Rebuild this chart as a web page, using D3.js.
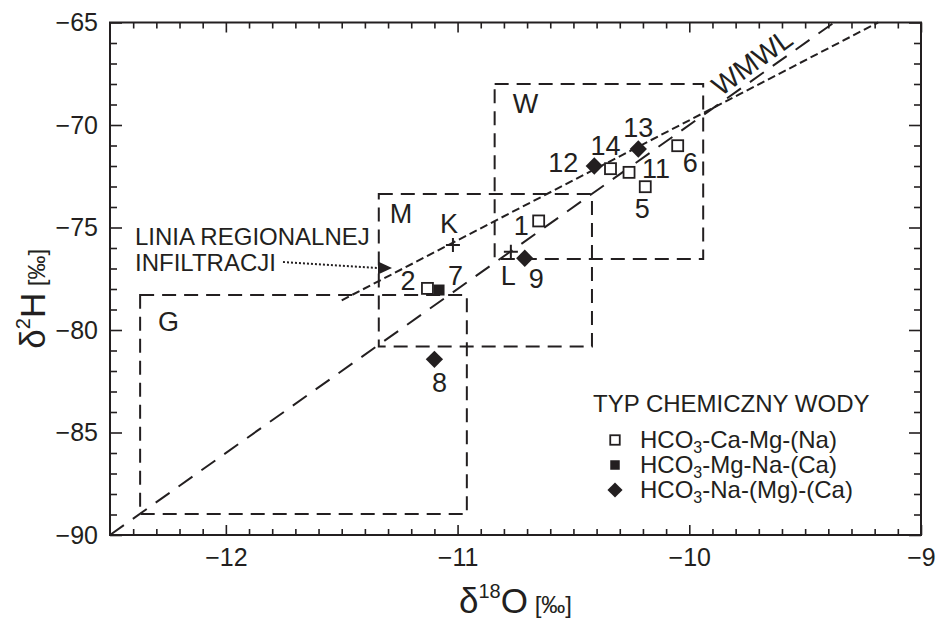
<!DOCTYPE html>
<html><head><meta charset="utf-8">
<script src="https://cdn.jsdelivr.net/npm/d3@7"></script>
<style>
body{margin:0;background:#fff}
text{font-family:"Liberation Sans",Arial,Helvetica,sans-serif;fill:#231f20}
</style>
</head><body>
<svg id="c" width="936" height="621"></svg>
<script>
// ---------- data ----------
const xTicks = [-12, -11, -10, -9];
const yTicks = [-90, -85, -80, -75, -70, -65];
const pointIds  = ['1', '2', '5', '6', '7', '8', '9', '11', '12', '13', '14'];
const pointD18O = [-10.65, -11.13, -10.19, -10.05, -11.08, -11.10, -10.71, -10.26, -10.41, -10.22, -10.34];
const pointD2H  = [-74.68, -77.97, -73.01, -71.01, -78.05, -81.43, -76.50, -72.31, -72.00, -71.17, -72.13];
const pointType = [0, 0, 0, 0, 1, 2, 2, 0, 2, 2, 0];   // 0 open square, 1 filled square, 2 diamond
const crossIds  = ['K', 'L'];
const crossD18O = [-11.02, -10.77];
const crossD2H  = [-75.85, -76.18];
const boxNames = ['W', 'M', 'G'];
const boxX0 = [-10.84, -11.34, -12.37];
const boxX1 = [-9.94, -10.42, -10.96];
const boxY0 = [-76.54, -80.81, -88.98];
const boxY1 = [-68.0, -73.37, -78.29];
const wmwlD18O = [-12.5, -9.375];
const wmwlD2H  = [-90, -65];
const regD18O = [-11.5, -9.185];
const regD2H  = [-78.55, -65];
const legendTitle = 'TYP CHEMICZNY WODY';
const legendLabels = [['HCO', '3', '-Ca-Mg-(Na)'], ['HCO', '3', '-Mg-Na-(Ca)'], ['HCO', '3', '-Na-(Mg)-(Ca)']];
const annotLines = ['LINIA REGIONALNEJ', 'INFILTRACJI'];
const wmwlLabel = 'WMWL';

// ---------- layout ----------
const ink = '#231f20';
const svg = d3.select('#c');
const x = d3.scaleLinear().domain([-12.5, -9]).range([110, 921]);
const y = d3.scaleLinear().domain([-90, -65]).range([535, 22.5]);
const [X0, X1] = x.range();
const [Y0, Y1] = y.range();

const xMinor = d3.range(-124, -90).map(v => v / 10).filter(v => Math.abs(v - Math.round(v)) > 1e-6);
const yMinor = d3.range(-89, -65).filter(v => v % 5 !== 0);
const fmt = d3.format('d');

function styleAxis(g) {
  g.select('.domain').remove();
  g.selectAll('line').attr('stroke', ink).attr('stroke-width', 1.6);
  g.selectAll('text').attr('font-size', 25).attr('fill', ink)
    .style('font-family', '"Liberation Sans",Arial,sans-serif');
}
// major + minor, all four sides, ticks inward
svg.append('g').attr('transform', `translate(0,${Y0})`)
  .call(d3.axisBottom(x).tickValues(xTicks).tickSize(-10).tickPadding(13).tickFormat(fmt)).call(styleAxis);
svg.append('g').attr('transform', `translate(0,${Y0})`)
  .call(d3.axisBottom(x).tickValues(xMinor).tickSize(-6).tickFormat('')).call(styleAxis);
svg.append('g').attr('transform', `translate(0,${Y1})`)
  .call(d3.axisTop(x).tickValues(xTicks).tickSize(-10).tickFormat('')).call(styleAxis);
svg.append('g').attr('transform', `translate(0,${Y1})`)
  .call(d3.axisTop(x).tickValues(xMinor).tickSize(-6).tickFormat('')).call(styleAxis);
svg.append('g').attr('transform', `translate(${X0},0)`)
  .call(d3.axisLeft(y).tickValues(yTicks).tickSize(-12).tickPadding(12).tickFormat(fmt)).call(styleAxis);
svg.append('g').attr('transform', `translate(${X0},0)`)
  .call(d3.axisLeft(y).tickValues(yMinor).tickSize(-7).tickFormat('')).call(styleAxis);
svg.append('g').attr('transform', `translate(${X1},0)`)
  .call(d3.axisRight(y).tickValues(yTicks).tickSize(-12).tickFormat('')).call(styleAxis);
svg.append('g').attr('transform', `translate(${X1},0)`)
  .call(d3.axisRight(y).tickValues(yMinor).tickSize(-7).tickFormat('')).call(styleAxis);

// frame
svg.append('rect').attr('x', X0).attr('y', Y1).attr('width', X1 - X0).attr('height', Y0 - Y1)
  .attr('fill', 'none').attr('stroke', ink).attr('stroke-width', 2);

// axis titles
const xt = svg.append('text').attr('x', (X0 + X1) / 2).attr('y', 613).attr('text-anchor', 'middle');
xt.append('tspan').attr('font-size', 35).text('δ');
xt.append('tspan').attr('font-size', 20).attr('dy', -15).text('18');
xt.append('tspan').attr('font-size', 35).attr('dy', 15).text('O');
xt.append('tspan').attr('font-size', 24).text(' [‰]');

const yt = svg.append('text').attr('transform', `translate(45,${(Y0 + Y1) / 2 + 20}) rotate(-90)`).attr('text-anchor', 'middle');
yt.append('tspan').attr('font-size', 35).text('δ');
yt.append('tspan').attr('font-size', 20).attr('dy', -15).text('2');
yt.append('tspan').attr('font-size', 35).attr('dy', 15).text('H');
yt.append('tspan').attr('font-size', 24).text(' [‰]');

// boxes
const boxLabelOff = [[18, 29], [11, 29], [18, 36]];
boxNames.forEach((n, i) => {
  svg.append('rect').attr('x', x(boxX0[i])).attr('y', y(boxY1[i]))
    .attr('width', x(boxX1[i]) - x(boxX0[i])).attr('height', y(boxY0[i]) - y(boxY1[i]))
    .attr('fill', 'none').attr('stroke', ink).attr('stroke-width', 2).attr('stroke-dasharray', '14,8');
  svg.append('text').attr('x', x(boxX0[i]) + boxLabelOff[i][0]).attr('y', y(boxY1[i]) + boxLabelOff[i][1])
    .attr('font-size', 27).text(n);
});

// lines
const line = d3.line().x(d => x(d[0])).y(d => y(d[1]));
svg.append('path').attr('d', line(d3.zip(wmwlD18O, wmwlD2H)))
  .attr('fill', 'none').attr('stroke', ink).attr('stroke-width', 2).attr('stroke-dasharray', '17,11');
svg.append('path').attr('d', line(d3.zip(regD18O, regD2H)))
  .attr('fill', 'none').attr('stroke', ink).attr('stroke-width', 2).attr('stroke-dasharray', '8,4');

// WMWL label
svg.append('text').attr('transform', 'translate(752,62) rotate(-36)').attr('text-anchor', 'middle')
  .attr('dy', '0.35em').attr('font-size', 28).text(wmwlLabel);

// annotation
svg.append('text').attr('x', 135).attr('y', 245).attr('font-size', 24).text(annotLines[0]);
svg.append('text').attr('x', 135).attr('y', 271).attr('font-size', 24).text(annotLines[1]);
svg.append('line').attr('x1', 283).attr('y1', 262).attr('x2', 378).attr('y2', 268)
  .attr('stroke', ink).attr('stroke-width', 2).attr('stroke-dasharray', '2,2');
svg.append('path').attr('d', 'M378,261.5 L392,268 L378,274.5 Z').attr('fill', ink);

// markers
function drawMarker(g, t, cx, cy, s) {
  if (t === 0) {
    g.append('rect').attr('x', cx - s / 2).attr('y', cy - s / 2).attr('width', s).attr('height', s)
      .attr('fill', '#fff').attr('stroke', ink).attr('stroke-width', 1.8);
  } else if (t === 1) {
    g.append('rect').attr('x', cx - s / 2).attr('y', cy - s / 2).attr('width', s).attr('height', s).attr('fill', ink);
  } else {
    const h = s * 0.72;
    g.append('path').attr('d', `M${cx},${cy - h} L${cx + h},${cy} L${cx},${cy + h} L${cx - h},${cy} Z`).attr('fill', ink);
  }
}
const labelOff = {
  '1': [-10, 14, 'end'], '2': [-12, 2, 'end'], '5': [-3, 31, 'middle'], '6': [5, 26, 'start'],
  '7': [9, -5, 'start'], '8': [5, 33, 'middle'], '9': [4, 30, 'start'], '11': [13, 6, 'start'],
  '12': [-16, 6, 'end'], '13': [0, -12, 'middle'], '14': [-5, -14, 'middle']
};
const mk = svg.append('g');
pointIds.forEach((id, i) => {
  const cx = x(pointD18O[i]), cy = y(pointD2H[i]);
  drawMarker(mk, pointType[i], cx, cy, pointType[i] === 2 ? 12 : 11);
  const o = labelOff[id];
  mk.append('text').attr('x', cx + o[0]).attr('y', cy + o[1]).attr('text-anchor', o[2]).attr('font-size', 27).text(id);
});
const crossOff = {'K': [-4, -12, 'middle'], 'L': [-10, 33, 'start']};
crossIds.forEach((id, i) => {
  const cx = x(crossD18O[i]), cy = y(crossD2H[i]);
  mk.append('path').attr('d', `M${cx - 7},${cy} H${cx + 7} M${cx},${cy - 7} V${cy + 7}`)
    .attr('stroke', ink).attr('stroke-width', 2);
  const o = crossOff[id];
  mk.append('text').attr('x', cx + o[0]).attr('y', cy + o[1]).attr('text-anchor', o[2]).attr('font-size', 27).text(id);
});

// legend
svg.append('text').attr('x', 593).attr('y', 412).attr('font-size', 24).text(legendTitle);
legendLabels.forEach((parts, i) => {
  const by = 448 + i * 25;
  drawMarker(svg, i, 615, by - 8, i === 2 ? 10.5 : 9.5);
  const t = svg.append('text').attr('x', 640).attr('y', by).attr('font-size', 24);
  t.append('tspan').text(parts[0]);
  t.append('tspan').attr('font-size', 16).attr('dy', 5).text(parts[1]);
  t.append('tspan').attr('dy', -5).text(parts[2]);
});
</script>
</body></html>
